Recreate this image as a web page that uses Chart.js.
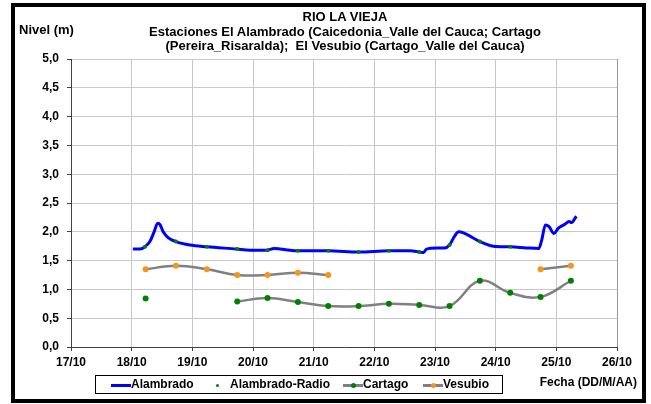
<!DOCTYPE html>
<html>
<head>
<meta charset="utf-8">
<script src="https://cdn.jsdelivr.net/npm/chart.js@4/dist/chart.umd.min.js"></script>
<style>
  body { margin: 0; background: #fff; font-family: "Liberation Sans", Arial, sans-serif; }
  #wrap { position: relative; width: 651px; height: 404px; }
  #frame { position: absolute; left: 11px; top: 3px; width: 627px; height: 392px; border: 4px solid #000; pointer-events: none; }
  .txt { position: absolute; font-weight: bold; color: #000; white-space: nowrap; }
  #title { left: 95px; width: 500px; top: 10px; text-align: center; line-height: 14.5px; font-size: 13px; }
  #legend { position: absolute; left: 95px; top: 375px; width: 406px; height: 17px; border: 1px solid #000; font-weight: bold; font-size: 12px; }
  .item { position: absolute; top: 1px; }
  .ln { position: absolute; height: 3px; }
  .dot { position: absolute; border-radius: 50%; }
</style>
</head>
<body>
<div id="wrap">
  <canvas id="chart" width="651" height="404"></canvas>
  <div class="txt" id="title">RIO LA VIEJA<br>Estaciones El Alambrado (Caicedonia_Valle del Cauca; Cartago<br>(Pereira_Risaralda);&nbsp; El Vesubio (Cartago_Valle del Cauca)</div>
  <div class="txt" style="left:19px; top:22px; font-size:13px;">Nivel (m)</div>
  <div class="txt" style="right:14px; top:375px; font-size:12px;">Fecha (DD/M/AA)</div>
  <div id="legend">
    <span class="ln" style="left:15px; top:8px; width:20px; background:#0000ff;"></span>
    <span class="item" style="left:35px;">Alambrado</span>
    <span class="dot" style="left:120px; top:8px; width:3px; height:3px; background:#008000;"></span>
    <span class="item" style="left:134px;">Alambrado-Radio</span>
    <span class="ln" style="left:247px; top:8px; width:20px; background:#808080;"></span>
    <span class="dot" style="left:255px; top:7px; width:5px; height:5px; background:#008000;"></span>
    <span class="item" style="left:267px;">Cartago</span>
    <span class="ln" style="left:327px; top:8px; width:20px; background:#808080;"></span>
    <span class="dot" style="left:335px; top:7px; width:5px; height:5px; background:#f7941d;"></span>
    <span class="item" style="left:347px;">Vesubio</span>
  </div>
  <div id="frame"></div>
</div>
<script>
// Alambrado (continuous record), day of October
const alambradoDias = [18.02, 18.14, 18.22, 18.30, 18.37, 18.43, 18.47, 18.52, 18.60, 18.73,
  18.96, 19.24, 19.73, 19.95, 20.22, 20.35, 20.61, 20.74, 21.24, 21.74,
  22.24, 22.59, 22.74, 22.81, 22.86, 23.03, 23.16, 23.24, 23.32, 23.39,
  23.47, 23.74, 23.96, 24.24, 24.51, 24.71, 24.76, 24.82, 24.88, 24.96,
  25.03, 25.14, 25.21, 25.25, 25.33];
const alambradoNivel = [1.70, 1.70, 1.74, 1.83, 2.00, 2.15, 2.12, 2.00, 1.90, 1.83,
  1.77, 1.74, 1.70, 1.68, 1.68, 1.71, 1.68, 1.67, 1.67, 1.65,
  1.67, 1.67, 1.65, 1.64, 1.70, 1.72, 1.72, 1.77, 1.92, 2.00,
  1.98, 1.83, 1.75, 1.74, 1.72, 1.71, 1.86, 2.12, 2.09, 1.97,
  2.06, 2.13, 2.18, 2.16, 2.27];

// Alambrado-Radio readings
const radioDias = [18.22, 18.73, 19.24, 19.74, 20.24, 20.74, 21.24, 21.74, 22.24, 22.74, 23.24, 23.74, 24.24];
const radioNivel = [1.74, 1.83, 1.74, 1.70, 1.68, 1.67, 1.67, 1.65, 1.67, 1.65, 1.77, 1.83, 1.74];

// twice-daily readings for Cartago and Vesubio
const lecturaDias = [18.23, 18.73, 19.24, 19.74, 20.24, 20.74, 21.24, 21.74, 22.24, 22.74, 23.24, 23.74, 24.24, 24.74, 25.24];
const cartagoNivel = [0.84, null, null, 0.79, 0.85, 0.78, 0.71, 0.71, 0.75, 0.73, 0.71, 1.15, 0.94, 0.87, 1.15];
const vesubioNivel = [1.35, 1.41, 1.35, 1.25, 1.25, 1.29, 1.25, null, null, null, null, null, null, 1.35, 1.41];

const xTicks = [17, 18, 19, 20, 21, 22, 23, 24, 25, 26];
const yTicks = [0, 0.5, 1, 1.5, 2, 2.5, 3, 3.5, 4, 4.5, 5];

const pares = (xs, ys) => xs.map((x, i) => ({ x: x, y: ys[i] }));
const fuente = { family: '"Liberation Sans", Arial, sans-serif', size: 12, weight: 'bold' };

new Chart(document.getElementById('chart').getContext('2d'), {
  type: 'line',
  data: {
    datasets: [
      {
        label: 'Alambrado',
        data: pares(alambradoDias, alambradoNivel),
        borderColor: '#0000ff',
        borderWidth: 3,
        pointRadius: 0,
        cubicInterpolationMode: 'monotone',
        order: 2
      },
      {
        label: 'Alambrado-Radio',
        data: pares(radioDias, radioNivel),
        showLine: false,
        pointRadius: 2,
        pointBackgroundColor: '#008000',
        pointBorderWidth: 0,
        order: 1
      },
      {
        label: 'Cartago',
        data: pares(lecturaDias, cartagoNivel),
        borderColor: '#808080',
        borderWidth: 2.5,
        tension: 0.4,
        spanGaps: false,
        pointRadius: 3,
        pointBackgroundColor: '#008000',
        pointBorderWidth: 0,
        order: 3
      },
      {
        label: 'Vesubio',
        data: pares(lecturaDias, vesubioNivel),
        borderColor: '#808080',
        borderWidth: 2.5,
        tension: 0.4,
        spanGaps: false,
        pointRadius: 3,
        pointBackgroundColor: '#f7941d',
        pointBorderWidth: 0,
        order: 3
      }
    ]
  },
  options: {
    responsive: false,
    animation: false,
    layout: { padding: { left: 0, top: 59, right: 34, bottom: 0 } },
    plugins: { legend: { display: false }, title: { display: false }, tooltip: { enabled: false } },
    scales: {
      x: {
        type: 'linear',
        min: 17,
        max: 26,
        afterBuildTicks: axis => { axis.ticks = xTicks.map(v => ({ value: v })); },
        afterFit: axis => { axis.height = 57; },
        ticks: { font: fuente, color: '#000', padding: 4, maxRotation: 0, callback: v => v + '/10' },
        grid: {
          color: ctx => ctx.tick && ctx.tick.value === 26 ? '#999999' : '#c8c8c8',
          tickColor: '#404040',
          tickLength: 4
        },
        border: { color: '#404040', width: 1 }
      },
      y: {
        min: 0,
        max: 5,
        afterBuildTicks: axis => { axis.ticks = yTicks.map(v => ({ value: v })); },
        afterFit: axis => { axis.width = 71; },
        ticks: { font: fuente, color: '#000', padding: 8, callback: v => v.toFixed(1).replace('.', ',') },
        grid: { color: '#c8c8c8', tickColor: '#404040', tickLength: 4 },
        border: { color: '#404040', width: 1 }
      }
    }
  }
});
</script>
</body>
</html>
